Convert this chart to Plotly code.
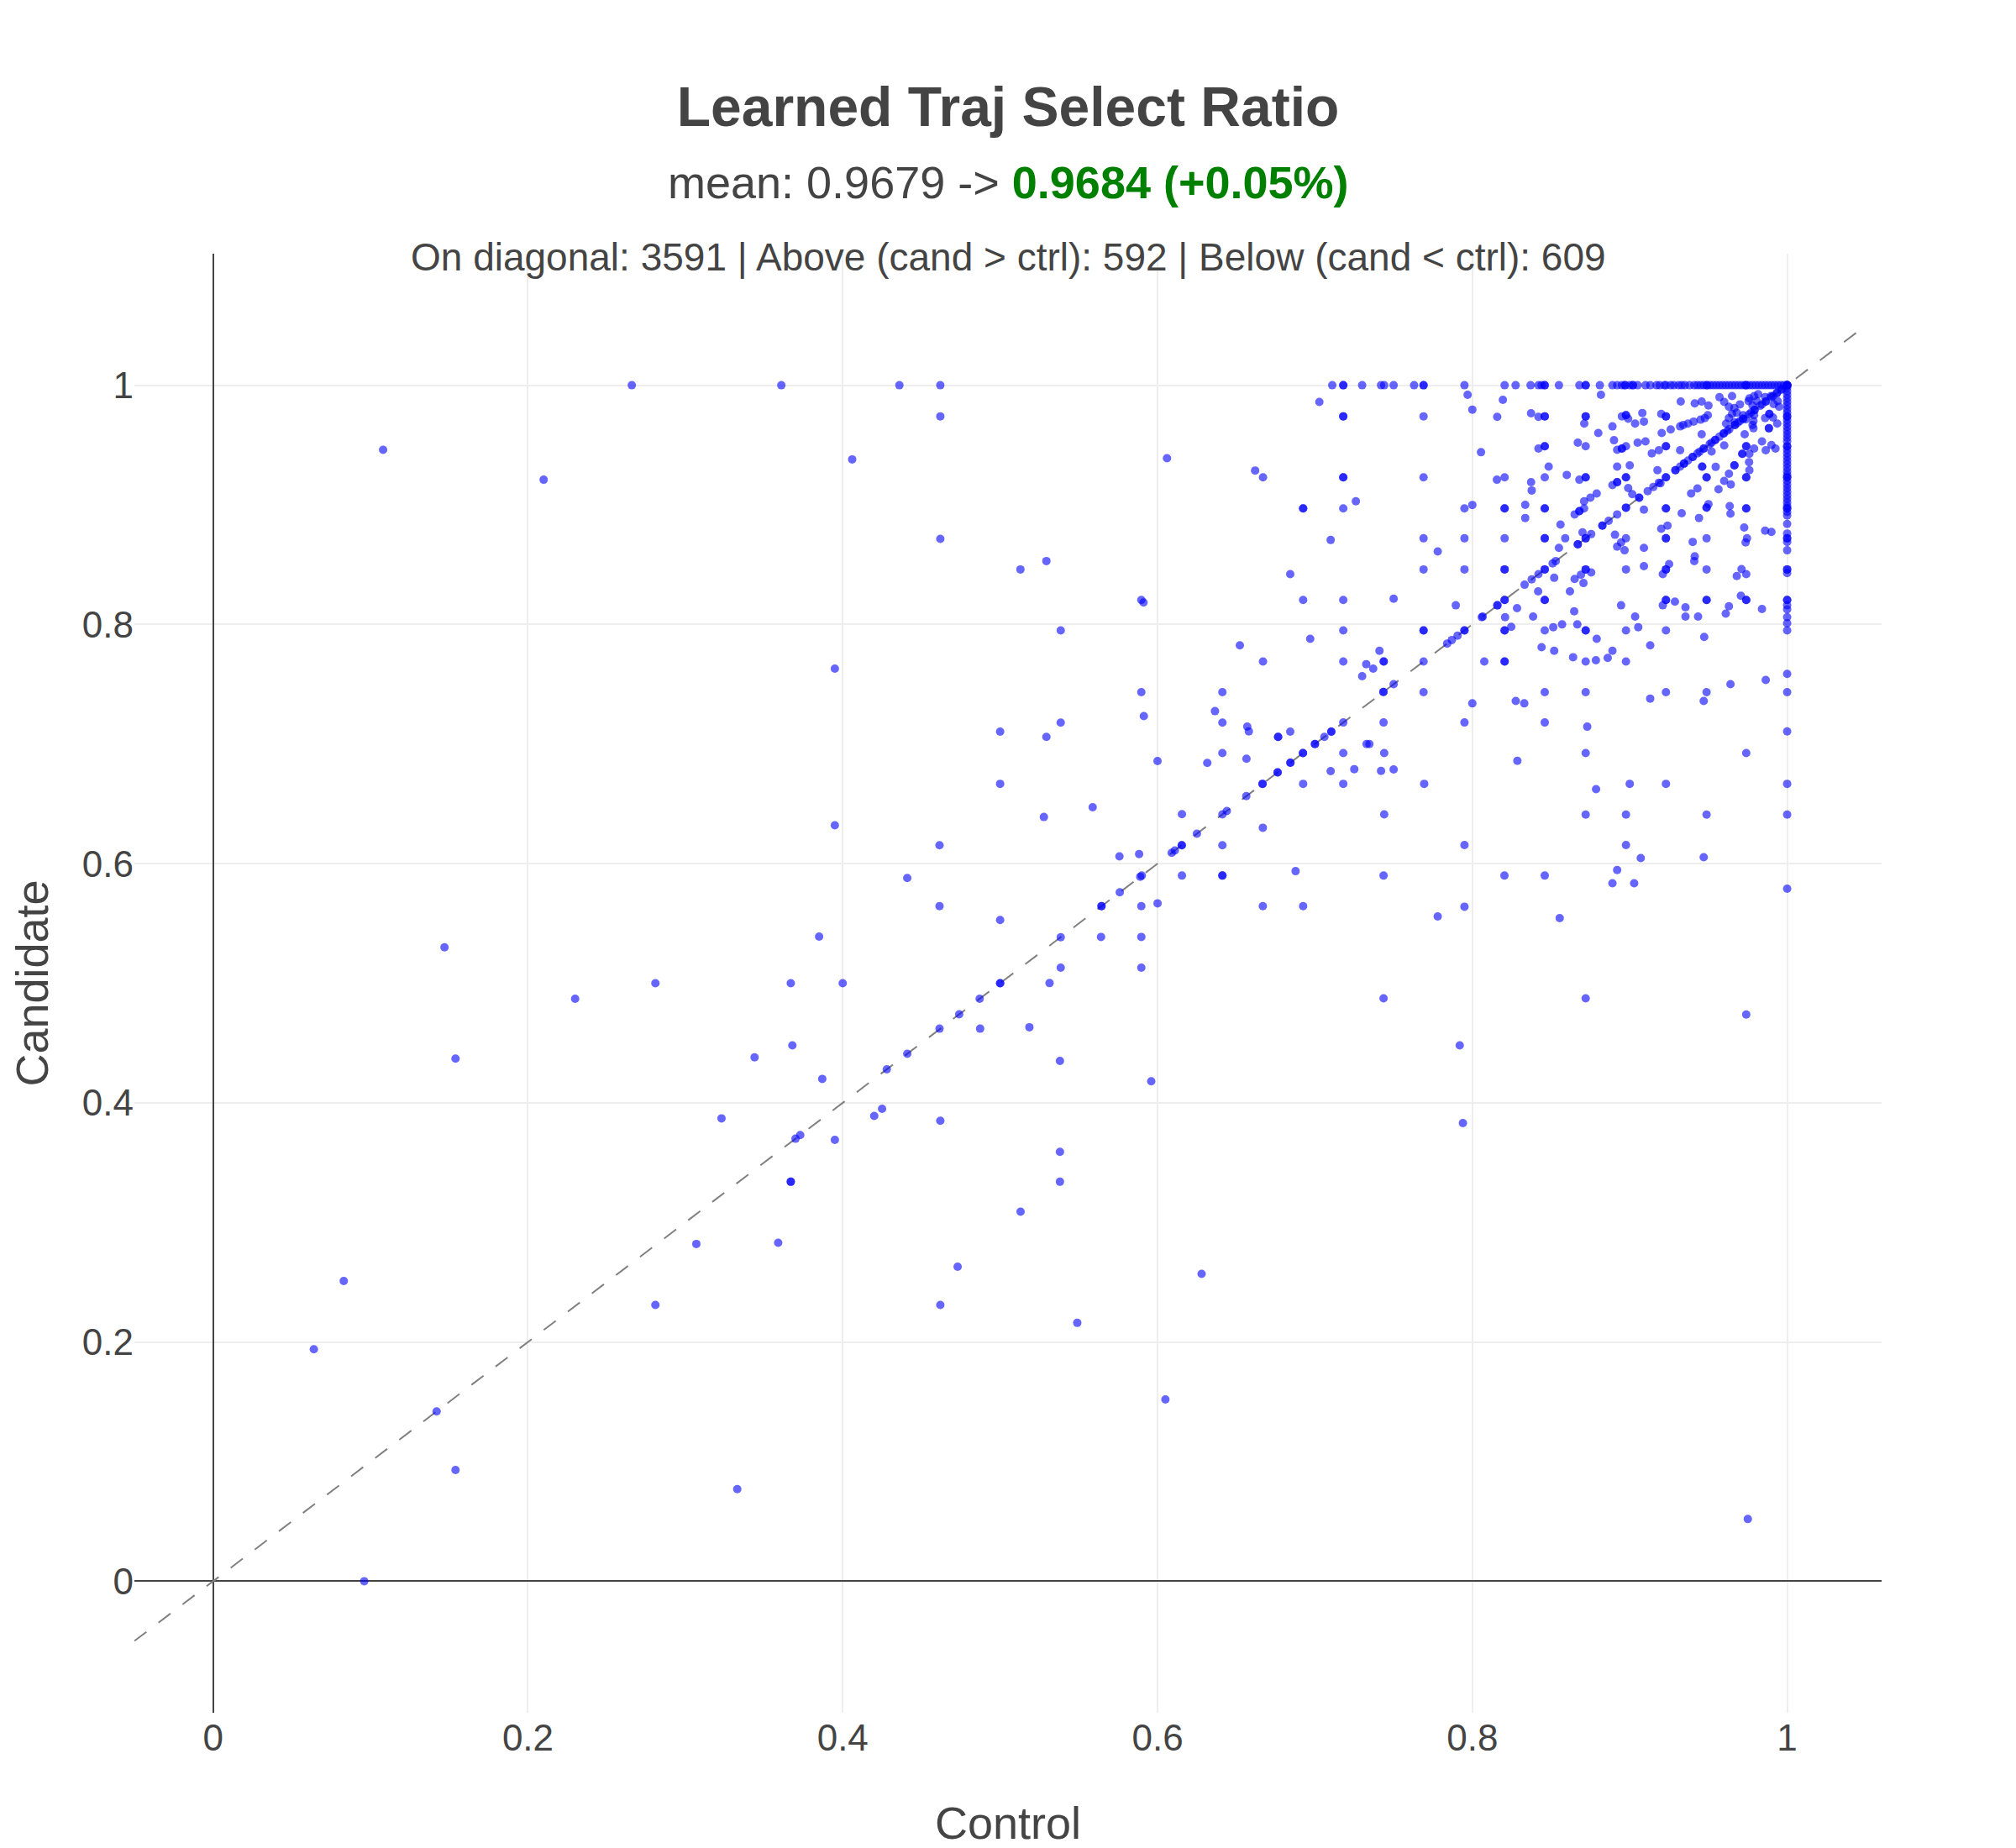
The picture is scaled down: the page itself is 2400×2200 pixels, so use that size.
import plotly.graph_objects as go

# Points sitting on cand = 1 (ctrl values)
top_row_ctrl = [0.266, 0.361, 0.436, 0.462, 0.711, 0.718, 0.718, 0.730, 0.742, 0.744, 0.750,
                0.763, 0.769, 0.769, 0.795, 0.8205, 0.8275, 0.837, 0.842, 0.844, 0.846, 0.846,
                0.855, 0.868, 0.872, 0.872, 0.881, 0.889, 0.892, 0.895, 0.897, 0.897, 0.900,
                0.902, 0.902, 0.905, 0.910, 0.913, 0.917, 0.919, 0.922, 0.923, 0.926, 0.928,
                0.931, 0.933, 0.935, 0.938, 0.941, 0.943, 0.945, 0.947, 0.949, 0.949, 0.951,
                0.953, 0.955, 0.957, 0.959, 0.961, 0.963, 0.965, 0.967, 0.969, 0.971, 0.973,
                0.974, 0.974, 0.976, 0.978, 0.980, 0.982, 0.984, 0.986, 0.988, 0.990, 0.992,
                0.994, 0.996, 0.998, 1.0, 1.0, 1.0, 1.0, 1.0]

# Points sitting on ctrl = 1 (cand values)
right_col_cand = [0.998, 0.995, 0.992, 0.989, 0.986, 0.983, 0.980, 0.977, 0.974, 0.974, 0.971,
                  0.968, 0.965, 0.962, 0.959, 0.956, 0.953, 0.949, 0.949, 0.946, 0.943, 0.940,
                  0.937, 0.934, 0.931, 0.928, 0.925, 0.923, 0.923, 0.920, 0.917, 0.914, 0.911,
                  0.908, 0.905, 0.902, 0.899, 0.897, 0.897, 0.894, 0.891, 0.884, 0.876, 0.872,
                  0.872, 0.869, 0.862, 0.846, 0.846, 0.843, 0.8205, 0.8205, 0.816, 0.8125,
                  0.806, 0.801, 0.795, 0.7586, 0.7434, 0.7105, 0.6667, 0.641, 0.579]

# Points on the diagonal (ctrl == cand)
diag_vals = [0.142, 0.370, 0.373, 0.428, 0.441, 0.474, 0.487, 0.5, 0.5, 0.5385, 0.5644, 0.5644,
             0.576, 0.589, 0.590, 0.609, 0.611, 0.6154, 0.6154, 0.625, 0.6412, 0.644, 0.6564,
             0.6667, 0.6667, 0.6763, 0.6763, 0.6844, 0.6844, 0.6924, 0.6924, 0.700, 0.700,
             0.706, 0.7104, 0.7104, 0.718, 0.7435, 0.7435, 0.750, 0.769, 0.784, 0.787, 0.7906,
             0.795, 0.795, 0.806, 0.8066, 0.816, 0.8205, 0.8205, 0.8332, 0.8377, 0.842, 0.846,
             0.846, 0.851, 0.853, 0.867, 0.867, 0.872, 0.872, 0.8755, 0.8826, 0.8826, 0.8866,
             0.892, 0.8976, 0.8976, 0.906, 0.906, 0.9114, 0.915, 0.9185, 0.923, 0.923, 0.929,
             0.929, 0.9345, 0.937, 0.940, 0.9444, 0.947, 0.9508, 0.9543, 0.957, 0.9597, 0.9633,
             0.9668, 0.9686, 0.972, 0.9757, 0.9793, 0.9828, 0.9864, 0.99, 0.9935, 0.997,
             0.9345, 0.9400, 0.9470, 0.9543, 0.9597, 0.9668, 0.972, 0.9793, 0.9864, 0.9935,
             0.932, 0.943, 0.952, 0.962, 0.970, 0.977, 0.984, 0.991, 0.996]

# Everything else: (ctrl, cand)
other_pairs = [
    # lower / left sparse region
    (0.108, 0.946), (0.210, 0.921), (0.406, 0.938), (0.395, 0.763), (0.395, 0.632),
    (0.441, 0.588), (0.147, 0.530), (0.385, 0.539), (0.367, 0.5), (0.4, 0.5), (0.281, 0.5),
    (0.230, 0.487), (0.154, 0.437), (0.344, 0.438), (0.368, 0.448), (0.387, 0.420),
    (0.395, 0.369), (0.323, 0.387), (0.420, 0.389), (0.425, 0.395), (0.367, 0.334),
    (0.367, 0.334), (0.462, 0.385), (0.538, 0.435), (0.538, 0.359), (0.538, 0.334),
    (0.513, 0.309), (0.473, 0.263), (0.462, 0.231), (0.549, 0.216), (0.596, 0.418),
    (0.628, 0.257), (0.605, 0.152), (0.975, 0.052), (0.792, 0.448), (0.794, 0.383),
    (0.064, 0.194), (0.083, 0.251), (0.154, 0.093), (0.096, 0.0), (0.281, 0.231),
    (0.307, 0.282), (0.359, 0.283), (0.333, 0.077),
    # middle, upper part
    (0.7028, 0.986), (0.462, 0.974), (0.718, 0.974), (0.718, 0.974), (0.606, 0.939),
    (0.662, 0.9287), (0.667, 0.923), (0.718, 0.923), (0.718, 0.923), (0.726, 0.903),
    (0.6925, 0.897), (0.6925, 0.897), (0.718, 0.897), (0.462, 0.8716), (0.710, 0.8706),
    (0.5294, 0.853), (0.5129, 0.846), (0.6843, 0.842), (0.5897, 0.8204), (0.5911, 0.8183),
    (0.6925, 0.8204), (0.718, 0.8204), (0.5385, 0.795), (0.718, 0.795), (0.697, 0.788),
    (0.6523, 0.7825), (0.667, 0.769), (0.718, 0.769), (0.7326, 0.7668), (0.730, 0.7567),
    (0.5897, 0.7434), (0.6412, 0.7434),
    # middle, lower part
    (0.6365, 0.7275), (0.5913, 0.7233), (0.5385, 0.7179), (0.500, 0.7104), (0.5294, 0.706),
    (0.6412, 0.7179), (0.657, 0.7146), (0.658, 0.7106), (0.6766, 0.706), (0.6766, 0.706),
    (0.6843, 0.7104), (0.7328, 0.700), (0.718, 0.6924), (0.6565, 0.6877), (0.6316, 0.6842),
    (0.6412, 0.6924), (0.6, 0.6858), (0.5, 0.6667), (0.6925, 0.6667), (0.710, 0.6774),
    (0.725, 0.679), (0.718, 0.6667), (0.5588, 0.6472), (0.5278, 0.639), (0.6155, 0.6414),
    (0.6669, 0.630), (0.4615, 0.6154), (0.6412, 0.6154), (0.5758, 0.606), (0.5883, 0.608),
    (0.6155, 0.590), (0.6412, 0.590), (0.6412, 0.590), (0.6877, 0.5937), (0.6, 0.5668),
    (0.5897, 0.5644), (0.6669, 0.5644), (0.6925, 0.5644), (0.4615, 0.5644), (0.5, 0.5528),
    (0.5641, 0.5387), (0.5897, 0.5387), (0.5385, 0.513), (0.5897, 0.513), (0.5314, 0.5001),
    (0.4615, 0.462), (0.4873, 0.462), (0.5186, 0.4632),
    # right, lower part
    (0.8, 0.734), (0.8276, 0.736), (0.833, 0.734), (0.913, 0.738), (0.947, 0.736),
    (0.7436, 0.718), (0.795, 0.718), (0.846, 0.718), (0.873, 0.7145), (0.7346, 0.700),
    (0.744, 0.6925), (0.872, 0.6925), (0.8286, 0.686), (0.974, 0.6925), (0.742, 0.6775),
    (0.750, 0.6787), (0.7694, 0.6667), (0.8786, 0.6623), (0.900, 0.6667), (0.923, 0.6667),
    (0.744, 0.6412), (0.872, 0.641), (0.8976, 0.641), (0.9488, 0.641), (0.795, 0.6155),
    (0.8976, 0.6155), (0.907, 0.6047), (0.947, 0.6054), (0.7436, 0.590), (0.8204, 0.590),
    (0.846, 0.590), (0.892, 0.5946), (0.889, 0.5836), (0.9028, 0.5836), (0.795, 0.564),
    (0.778, 0.5558), (0.8555, 0.5544), (0.7436, 0.4874), (0.872, 0.4874), (0.974, 0.4738),
    # right, upper part
    (0.797, 0.992), (0.8817, 0.992), (0.8194, 0.9878), (0.8, 0.9796), (0.9324, 0.9864),
    (0.9413, 0.9848), (0.9457, 0.9864), (0.950, 0.983), (0.769, 0.974), (0.8158, 0.9736),
    (0.8373, 0.9766), (0.842, 0.9736), (0.846, 0.974), (0.846, 0.974), (0.872, 0.974),
    (0.872, 0.974), (0.895, 0.974), (0.8976, 0.975), (0.8976, 0.975), (0.899, 0.972),
    (0.908, 0.9768), (0.909, 0.9696), (0.9034, 0.968), (0.8711, 0.968), (0.889, 0.9656),
    (0.88, 0.96), (0.9203, 0.96), (0.926, 0.963), (0.920, 0.976), (0.923, 0.974),
    (0.923, 0.974), (0.932, 0.9656), (0.934, 0.9668), (0.937, 0.968), (0.9406, 0.9696),
    (0.945, 0.9712), (0.9477, 0.9726), (0.9496, 0.975),
    (0.842, 0.947), (0.846, 0.949), (0.846, 0.949), (0.867, 0.952), (0.872, 0.949),
    (0.890, 0.954), (0.892, 0.946), (0.895, 0.947), (0.895, 0.947), (0.8976, 0.949),
    (0.905, 0.952), (0.910, 0.953), (0.914, 0.943), (0.9185, 0.9457), (0.923, 0.949),
    (0.923, 0.949), (0.932, 0.9457), (0.9457, 0.959), (0.952, 0.9446), (0.96, 0.9497),
    (0.9715, 0.9427), (0.9715, 0.9427), (0.974, 0.949), (0.974, 0.949), (0.976, 0.9427),
    (0.979, 0.947), (0.984, 0.953), (0.9864, 0.9457), (0.990, 0.950), (0.9926, 0.947),
    (0.973, 0.959), (0.9612, 0.968), (0.9884, 0.964), (0.9884, 0.964), (0.9937, 0.968),
    (0.9887, 0.976), (0.9887, 0.976), (0.991, 0.973), (0.986, 0.9726), (0.9786, 0.970),
    (0.9786, 0.964),
    (0.965, 0.991), (0.957, 0.990), (0.960, 0.986), (0.963, 0.982), (0.9665, 0.981),
    (0.970, 0.984), (0.965, 0.976), (0.968, 0.977), (0.963, 0.9726), (0.976, 0.989),
    (0.979, 0.991), (0.9816, 0.9925), (0.986, 0.990), (0.9896, 0.991), (0.9755, 0.9867),
    (0.978, 0.983), (0.9807, 0.9867), (0.9914, 0.9843), (0.994, 0.9867), (0.9949, 0.982),
    (0.979, 0.975), (0.972, 0.975), (0.9736, 0.9715), (0.978, 0.9668), (0.9665, 0.969),
    (0.769, 0.923), (0.8055, 0.944), (0.8156, 0.921), (0.8205, 0.923), (0.8373, 0.919),
    (0.8377, 0.912), (0.846, 0.923), (0.8485, 0.932), (0.860, 0.925), (0.868, 0.921),
    (0.872, 0.923), (0.872, 0.923), (0.892, 0.932), (0.900, 0.933), (0.892, 0.919),
    (0.892, 0.919), (0.889, 0.9165), (0.8976, 0.923), (0.8976, 0.923), (0.899, 0.914),
    (0.9016, 0.909), (0.9176, 0.929), (0.9195, 0.918), (0.946, 0.932), (0.946, 0.932),
    (0.9488, 0.923), (0.9488, 0.923), (0.9546, 0.9317), (0.963, 0.926), (0.9642, 0.917),
    (0.960, 0.920), (0.9564, 0.913), (0.9665, 0.933), (0.9665, 0.933), (0.974, 0.923),
    (0.974, 0.923), (0.976, 0.929), (0.9758, 0.9357), (0.943, 0.9137), (0.939, 0.9095),
    (0.795, 0.897), (0.8, 0.8999), (0.8205, 0.897), (0.8205, 0.897), (0.8336, 0.900),
    (0.8336, 0.889), (0.846, 0.897), (0.846, 0.897), (0.865, 0.892), (0.868, 0.8947),
    (0.868, 0.8947), (0.871, 0.897), (0.871, 0.903), (0.875, 0.906), (0.879, 0.9095),
    (0.909, 0.896), (0.923, 0.897), (0.923, 0.897), (0.933, 0.893), (0.944, 0.889),
    (0.9488, 0.8977), (0.9488, 0.8977), (0.950, 0.9006), (0.9635, 0.899), (0.964, 0.8926),
    (0.974, 0.897), (0.974, 0.897),
    (0.769, 0.872), (0.778, 0.861), (0.795, 0.872), (0.8205, 0.872), (0.846, 0.872),
    (0.846, 0.872), (0.859, 0.872), (0.856, 0.8835), (0.855, 0.864), (0.870, 0.877),
    (0.8906, 0.875), (0.8976, 0.872), (0.8945, 0.8686), (0.892, 0.865), (0.8967, 0.862),
    (0.909, 0.864), (0.920, 0.880), (0.924, 0.8826), (0.923, 0.872), (0.923, 0.872),
    (0.940, 0.869), (0.9488, 0.872), (0.9413, 0.857), (0.941, 0.853), (0.9727, 0.881),
    (0.9745, 0.872), (0.9736, 0.8686), (0.986, 0.8784), (0.990, 0.8774),
    (0.769, 0.846), (0.795, 0.846), (0.8205, 0.846), (0.8205, 0.846), (0.852, 0.839),
    (0.865, 0.838), (0.869, 0.8416), (0.872, 0.846), (0.872, 0.846), (0.8755, 0.8435),
    (0.8706, 0.8346), (0.862, 0.8276), (0.8976, 0.846), (0.909, 0.8487), (0.923, 0.846),
    (0.923, 0.846), (0.925, 0.8505), (0.921, 0.842), (0.9488, 0.846), (0.968, 0.8405),
    (0.971, 0.8463), (0.974, 0.842),
    (0.750, 0.8215), (0.7895, 0.816), (0.8158, 0.816), (0.8284, 0.8136), (0.8386, 0.8066),
    (0.8418, 0.8276), (0.846, 0.8205), (0.846, 0.8205), (0.8647, 0.811), (0.8945, 0.816),
    (0.9034, 0.8066), (0.923, 0.8205), (0.923, 0.8205), (0.9287, 0.819), (0.921, 0.816),
    (0.9354, 0.8143), (0.9354, 0.8066), (0.9434, 0.8066), (0.9488, 0.8205), (0.9488, 0.8205),
    (0.963, 0.8152), (0.961, 0.809), (0.9706, 0.824), (0.974, 0.8205), (0.974, 0.8205),
    (0.984, 0.8129),
    (0.769, 0.795), (0.769, 0.795), (0.8205, 0.795), (0.8205, 0.795), (0.8208, 0.806),
    (0.8247, 0.798), (0.846, 0.795), (0.8514, 0.7977), (0.857, 0.800), (0.8667, 0.800),
    (0.872, 0.795), (0.872, 0.795), (0.879, 0.788), (0.8976, 0.795), (0.9054, 0.7977),
    (0.923, 0.795), (0.913, 0.7825), (0.9473, 0.7895),
    (0.741, 0.778), (0.7437, 0.769), (0.7437, 0.769), (0.737, 0.763), (0.8076, 0.769),
    (0.8205, 0.769), (0.8205, 0.769), (0.844, 0.781), (0.852, 0.778), (0.864, 0.7726),
    (0.872, 0.769), (0.8785, 0.770), (0.886, 0.772), (0.889, 0.778), (0.8976, 0.769),
    (0.9864, 0.7535), (0.964, 0.750),
    (0.769, 0.7434), (0.846, 0.7434), (0.872, 0.7434), (0.923, 0.7434), (0.9488, 0.7434),
]

diag_line = [-0.05, 1.05]

ctrl = (top_row_ctrl + [1.0] * len(right_col_cand) + diag_vals
        + [p[0] for p in other_pairs])
cand = ([1.0] * len(top_row_ctrl) + right_col_cand + diag_vals
        + [p[1] for p in other_pairs])

fig = go.Figure()

fig.add_trace(go.Scatter(
    x=diag_line, y=diag_line, mode='lines',
    line=dict(color='gray', width=2, dash='18px,18px'),
    hoverinfo='skip', showlegend=False
))

fig.add_trace(go.Scatter(
    x=ctrl, y=cand, mode='markers',
    marker=dict(color='blue', size=10, opacity=0.6, line=dict(width=0)),
    showlegend=False
))

fig.update_layout(
    template='none',
    width=2392, height=2192,
    margin=dict(l=152, r=160, t=294, b=161),
    font=dict(family='Liberation Sans, Arial, sans-serif', color='#444'),
    paper_bgcolor='white', plot_bgcolor='white',
    title=dict(text='<b>Learned Traj Select Ratio</b>', font=dict(size=66),
               x=0.5, xanchor='center', xref='paper',
               y=1 - 119 / 2192, yanchor='middle', yref='container'),
    annotations=[
        dict(text="mean: 0.9679 -&gt; <span style='color:green'><b>0.9684 (+0.05%)</b></span>",
             x=0.5, y=1.049, xref='paper', yref='paper', showarrow=False,
             xanchor='center', yanchor='middle', font=dict(size=54)),
        dict(text='On diagonal: 3591 | Above (cand &gt; ctrl): 592 | Below (cand &lt; ctrl): 609',
             x=0.5, y=0.9977, xref='paper', yref='paper', showarrow=False,
             xanchor='center', yanchor='middle', font=dict(size=46)),
    ],
    xaxis=dict(title=dict(text='Control', font=dict(size=54)),
               range=[-0.05, 1.06], dtick=0.2, tickfont=dict(size=44),
               showgrid=True, gridcolor='#eee', gridwidth=2,
               zeroline=True, zerolinecolor='#444', zerolinewidth=2, showline=False),
    yaxis=dict(title=dict(text='Candidate', font=dict(size=54)),
               range=[-0.11, 1.11], dtick=0.2, tickfont=dict(size=44),
               showgrid=True, gridcolor='#eee', gridwidth=2,
               zeroline=True, zerolinecolor='#444', zerolinewidth=2, showline=False),
)

fig.write_html('out.html')
